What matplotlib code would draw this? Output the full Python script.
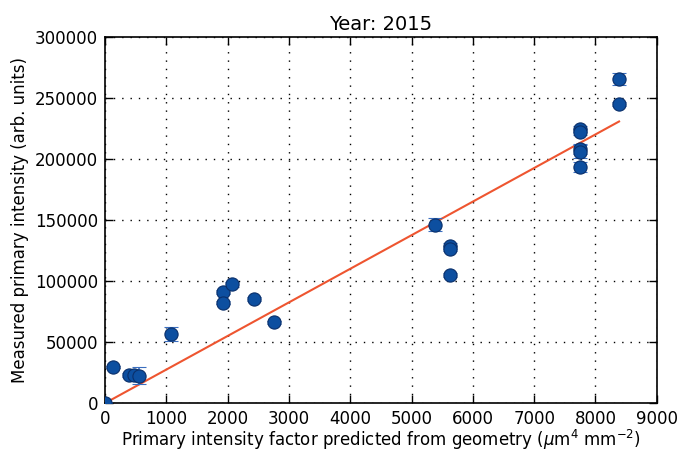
import numpy as np
import matplotlib
matplotlib.use("Agg")
import matplotlib.pyplot as plt

# values
predicted = [0, 130, 392, 478, 560, 1072, 1930, 1930, 2067, 2426, 2752,
             5378, 5623, 5623, 5623, 7749, 7749, 7749, 7749, 7749, 8385, 8385]
measured = [500, 29600, 23300, 23300, 22300, 56500, 91000, 82400, 97300, 85100, 66100,
            146200, 128300, 126400, 104900, 224300, 221900, 208000, 206000, 193300,
            265100, 244700]
measured_err = [300, 1000, 1500, 1500, 7000, 6000, 1500, 1500, 2000, 1500, 1200,
                5000, 2500, 2000, 1500, 2500, 2500, 4000, 5000, 4000, 5000, 1500]

fit_slope = 27.5
fit_intercept = 0.0

plt.rcParams["font.family"] = "DejaVu Sans"
plt.rcParams["font.size"] = 12
plt.rcParams["mathtext.fontset"] = "dejavusans"

fig = plt.figure(figsize=(6.82, 4.53), dpi=100)
ax = fig.add_axes([0.154, 0.11, 0.809, 0.809])

ax.errorbar(predicted, measured, yerr=measured_err, fmt="o", ms=9.5,
            mfc="#0d4fa0", mec="#0a2f6a", mew=0.8,
            ecolor="#3a6ec0", elinewidth=1.2, capsize=5, capthick=1.2, zorder=3)

xfit = np.array([0, max(predicted)])
ax.plot(xfit, fit_slope * xfit + fit_intercept, color="#ee5530", lw=1.5, zorder=2)

ax.set_xlim(0, 9000)
ax.set_ylim(0, 300000)
ax.set_xticks(np.arange(0, 9001, 1000))
ax.set_yticks(np.arange(0, 300001, 50000))
ax.grid(True, linestyle=(0, (1, 5)), color="black", linewidth=1.0)
ax.set_axisbelow(True)
ax.tick_params(direction="in", length=6, width=1, top=True, right=True, pad=5)
for s in ax.spines.values():
    s.set_linewidth(1.2)

ax.set_title("Year: 2015", fontsize=14, pad=5)
ax.set_xlabel(r"Primary intensity factor predicted from geometry ($\mu$m$^4$ mm$^{-2}$)",
              labelpad=0)
ax.set_ylabel("Measured primary intensity (arb. units)")

fig.savefig("out.png", dpi=100)
